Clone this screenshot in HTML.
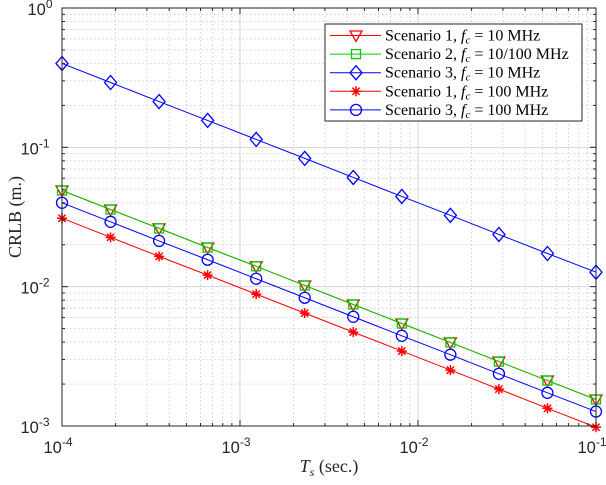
<!DOCTYPE html>
<html><head><meta charset="utf-8"><style>
body{margin:0;background:#fff;}
svg text{font-family:"Liberation Sans",sans-serif;}
.serif{font-family:"Liberation Serif",serif;}
</style></head><body>
<svg id="chart" width="606" height="480" xmlns="http://www.w3.org/2000/svg">
<rect x="0" y="0" width="606" height="480" fill="#fff"/>
<g id="grid"></g>
<g id="series"></g>
<g id="axes"></g>
<g id="legend"></g>
</svg>
<script>
const xs = [1e-4,1.874e-4,3.511e-4,6.579e-4,1.233e-3,2.310e-3,4.329e-3,8.111e-3,1.520e-2,2.848e-2,5.337e-2,1e-1];
const s1_10 = [0.049,0.0358,0.0262,0.0191,0.0140,0.0102,0.00745,0.00544,0.00398,0.00290,0.00212,0.00155];
const s2 = [0.049,0.0358,0.0262,0.0191,0.0140,0.0102,0.00745,0.00544,0.00398,0.00290,0.00212,0.00155];
const s3_10 = [0.40,0.292,0.213,0.156,0.114,0.0833,0.0608,0.0444,0.0325,0.0237,0.0173,0.0127];
const s1_100 = [0.031,0.0226,0.0165,0.0121,0.00884,0.00646,0.00472,0.00345,0.00252,0.00184,0.00134,0.00098];
const s3_100 = [0.040,0.0292,0.0213,0.0156,0.0114,0.00833,0.00608,0.00444,0.00325,0.00237,0.00173,0.00127];
const xTickExps = [-4,-3,-2,-1];
const yTickExps = [0,-1,-2,-3];

const L=62,R=596,T=8,B=426;
const NS='http://www.w3.org/2000/svg';
function X(v){return L+(Math.log10(v)+4)/3*(R-L);}
function Y(v){return B-(Math.log10(v)+3)/3*(B-T);}
function mk(tag,attrs,parent){const e=document.createElementNS(NS,tag);for(const k in attrs)e.setAttribute(k,attrs[k]);parent.appendChild(e);return e;}

const grid=document.getElementById('grid');
for(let e=-4;e<-1+1e-9;e++){for(let m=1;m<10;m++){const v=m*Math.pow(10,e);if(v>0.1+1e-12)break;const x=X(v);
 const g=mk('line',{x1:x,x2:x,y1:T,y2:B,stroke:m==1?'#d4d4d4':'#cfcfcf','stroke-width':m==1?1:0.9,'stroke-dasharray':m==1?'none':'1.5,2.5'},grid);
 
 }}
for(let e=-3;e<0+1e-9;e++){for(let m=1;m<10;m++){const v=m*Math.pow(10,e);if(v>1+1e-12)break;const y=Y(v);
 const g=mk('line',{x1:L,x2:R,y1:y,y2:y,stroke:m==1?'#d4d4d4':'#cfcfcf','stroke-width':m==1?1:0.9,'stroke-dasharray':m==1?'none':'1.5,2.5'},grid);
 
 }}

function marker(g,type,x,y,color){
 let e;
 if(type=='tri'){e=mk('path',{d:`M${x-6},${y-4.5} L${x+6},${y-4.5} L${x},${y+6} Z`,fill:'none',stroke:color,'stroke-width':1.3},g);}
 else if(type=='sq'){e=mk('rect',{x:x-4.5,y:y-4.5,width:9,height:9,fill:'none',stroke:color,'stroke-width':1.3},g);}
 else if(type=='dia'){e=mk('path',{d:`M${x},${y-7} L${x+6},${y} L${x},${y+7} L${x-6},${y} Z`,fill:'none',stroke:color,'stroke-width':1.3},g);}
 else if(type=='circ'){e=mk('circle',{cx:x,cy:y,r:5.5,fill:'none',stroke:color,'stroke-width':1.3},g);}
 else if(type=='star'){e=mk('path',{d:`M${x-5},${y} L${x+5},${y} M${x},${y-5} L${x},${y+5} M${x-3.6},${y-3.6} L${x+3.6},${y+3.6} M${x-3.6},${y+3.6} L${x+3.6},${y-3.6}`,fill:'none',stroke:color,'stroke-width':1.5},g);}
 
 
}
const seriesDefs=[
 {name:'series-s1-10mhz',vals:s1_10,color:'#ff0000',m:'tri',label:['Scenario 1, ','10 MHz']},
 {name:'series-s2-10-100mhz',vals:s2,color:'#00cc00',m:'sq',label:['Scenario 2, ','10/100 MHz']},
 {name:'series-s3-10mhz',vals:s3_10,color:'#0000ff',m:'dia',label:['Scenario 3, ','10 MHz']},
 {name:'series-s1-100mhz',vals:s1_100,color:'#ff0000',m:'star',label:['Scenario 1, ','100 MHz']},
 {name:'series-s3-100mhz',vals:s3_100,color:'#0000ff',m:'circ',label:['Scenario 3, ','100 MHz']}
];
const sg=document.getElementById('series');
seriesDefs.forEach(s=>{
 const g=mk('g',{},sg);
 
 
 const pts=s.vals.map((v,i)=>X(xs[i])+','+Y(v)).join(' ');
 const pl=mk('polyline',{points:pts,fill:'none',stroke:s.color,'stroke-width':1},g);
 
 
 s.vals.forEach((v,i)=>marker(g,s.m,X(xs[i]),Y(v),s.color));
});

const ax=document.getElementById('axes');
const box=mk('rect',{x:L,y:T,width:R-L,height:B-T,fill:'none',stroke:'#262626','stroke-width':1},ax);


for(let e=-4;e<=-1;e++){for(let m=1;m<10;m++){const v=m*Math.pow(10,e);if(v>0.1+1e-12)break;const x=X(v);const l=m==1?6:3;
 mk('line',{x1:x,x2:x,y1:B,y2:B-l,stroke:'#262626'},ax);mk('line',{x1:x,x2:x,y1:T,y2:T+l,stroke:'#262626'},ax);}}
for(let e=-3;e<=0;e++){for(let m=1;m<10;m++){const v=m*Math.pow(10,e);if(v>1+1e-12)break;const y=Y(v);const l=m==1?6:3;
 mk('line',{x1:L,x2:L+l,y1:y,y2:y,stroke:'#262626'},ax);mk('line',{x1:R,x2:R-l,y1:y,y2:y,stroke:'#262626'},ax);}}
xTickExps.forEach(e=>{
 const t=mk('text',{x:X(Math.pow(10,e))-4,y:B+27,'text-anchor':'middle','font-size':16.5,fill:'#262626'},ax);
 
 
 t.innerHTML='10<tspan dy="-7" font-size="12">'+e+'</tspan>';
});
yTickExps.forEach(e=>{
 const t=mk('text',{x:e==0?40:35,y:Y(Math.pow(10,e))+7,'text-anchor':'middle','font-size':16.5,fill:'#262626'},ax);
 
 
 t.innerHTML='10<tspan dy="-7" font-size="12">'+e+'</tspan>';
});
const xl=mk('text',{x:329,y:472,'text-anchor':'middle','font-size':18,fill:'#262626',class:'serif'},ax);


xl.innerHTML='<tspan font-style="italic">T</tspan><tspan font-style="italic" font-size="12" dy="4">s</tspan><tspan dy="-4"> (sec.)</tspan>';
const yl=mk('text',{x:0,y:0,'text-anchor':'middle','font-size':18,fill:'#262626',class:'serif',transform:'translate(21,217) rotate(-90)'},ax);


yl.textContent='CRLB (m.)';

const lg=document.getElementById('legend');
const lb=mk('rect',{x:325,y:24,width:257,height:97,fill:'#fff',stroke:'#262626','stroke-width':1},lg);


seriesDefs.forEach((s,i)=>{
 const y=35.5+i*18.6;
 const g=mk('g',{},lg);
 
 
 mk('line',{x1:330,x2:381,y1:y,y2:y,stroke:s.color,'stroke-width':1},g);
 marker(g,s.m,356,y,s.color);
 const t=mk('text',{x:385,y:y+5,'font-size':16,fill:'#000',class:'serif'},g);
 
 
 t.innerHTML=s.label[0]+'<tspan font-style="italic">f</tspan><tspan font-style="italic" font-size="11" dy="3">c</tspan><tspan dy="-3"> = '+s.label[1]+'</tspan>';
});
</script>
</body></html>
